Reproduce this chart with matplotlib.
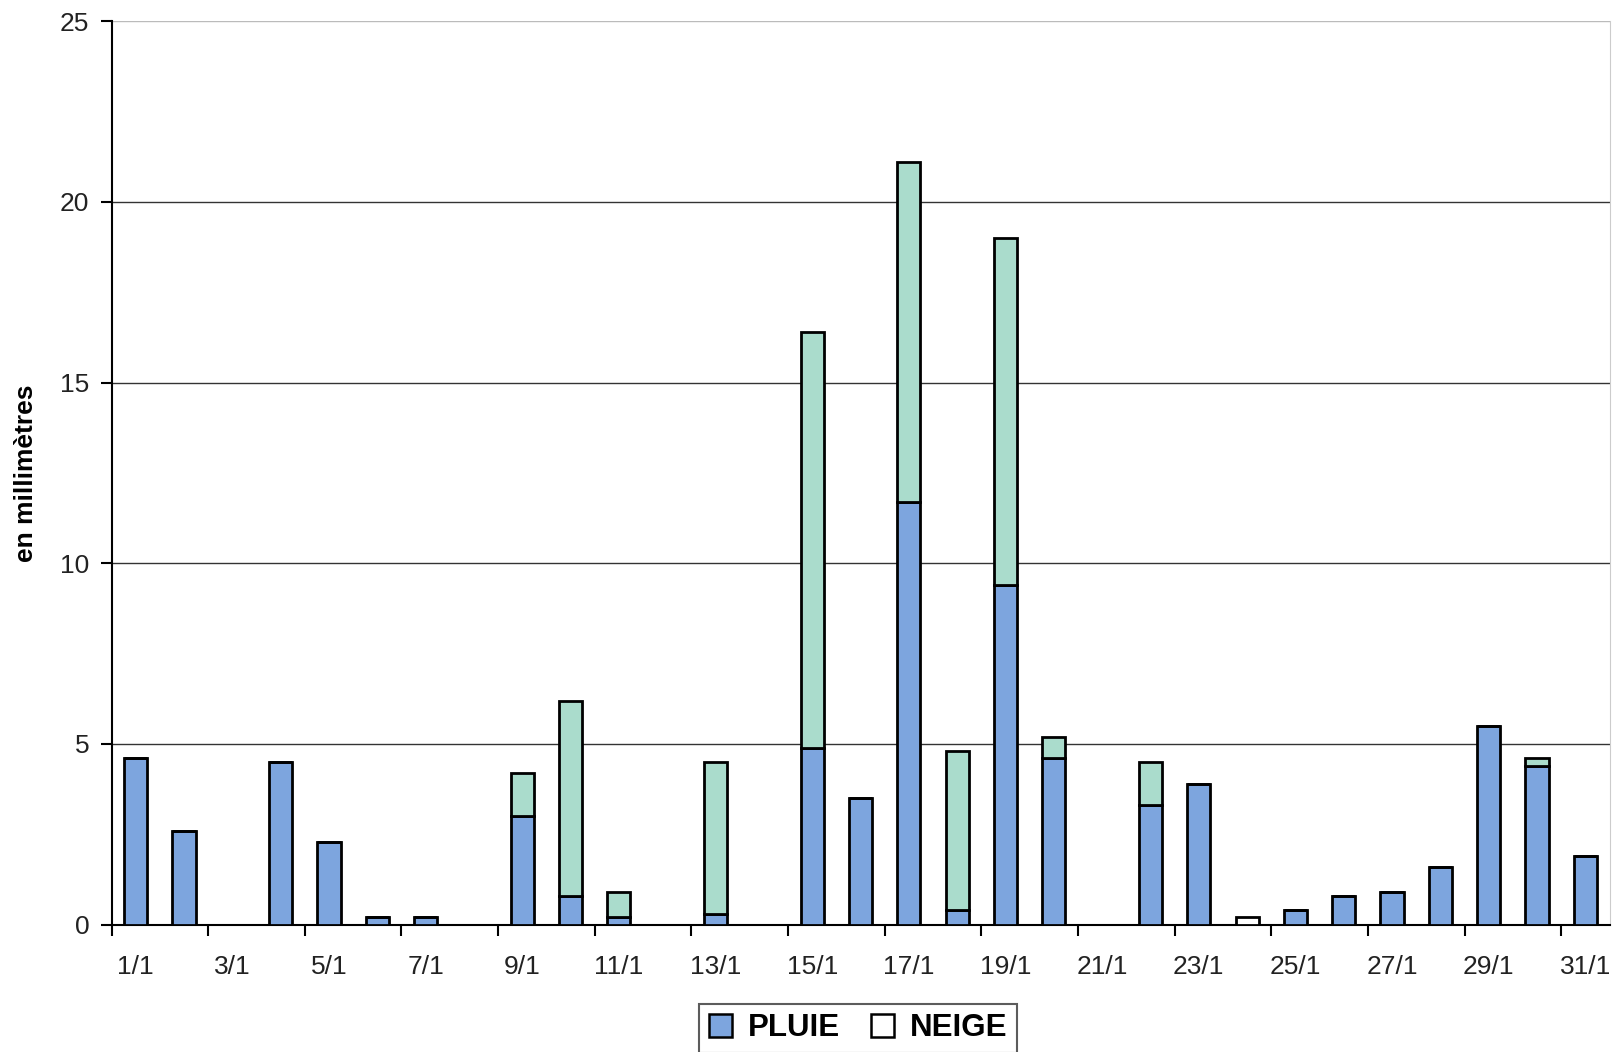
import numpy as np
import matplotlib
matplotlib.use("Agg")
import matplotlib.pyplot as plt
from matplotlib.patches import Patch

plt.rcParams['font.family'] = ['Liberation Sans', 'DejaVu Sans']

# daily precipitation, January (mm)
jours = np.arange(1, 32)
pluie = [4.6, 2.6, 0, 4.5, 2.3, 0.2, 0.2, 0, 3.0, 0.8, 0.2, 0, 0.3, 0, 4.9, 3.5,
         11.7, 0.4, 9.4, 4.6, 0, 3.3, 3.9, 0, 0.4, 0.8, 0.9, 1.6, 5.5, 4.4, 1.9]
neige = [0, 0, 0, 0, 0, 0, 0, 0, 1.2, 5.4, 0.7, 0, 4.2, 0, 11.5, 0,
         9.4, 4.4, 9.6, 0.6, 0, 1.2, 0, 0.2, 0, 0, 0, 0, 0, 0.2, 0]
tick_labels = [f"{d}/1" for d in range(1, 32, 2)]

blue = '#7DA5DE'
green = '#AADCCC'

fig = plt.figure(figsize=(16.16, 10.52), dpi=100)
ax = fig.add_axes([0.069, 0.121, 0.927, 0.859])

ax.bar(jours, pluie, width=0.48, color=blue, edgecolor='black', linewidth=2.0, zorder=3)
snow_bars = ax.bar(jours, neige, bottom=pluie, width=0.48, color=green,
                   edgecolor='black', linewidth=2.0, zorder=3)
# the single snow-only trace on 24/1 is printed white
for b, p in zip(snow_bars, pluie):
    if p == 0:
        b.set_facecolor('white')

ax.set_xlim(0.5, 31.5)
ax.set_ylim(0, 25)
ax.set_yticks([0, 5, 10, 15, 20, 25])
for y in [5, 10, 15, 20]:
    ax.axhline(y, color='#333333', linewidth=1.0, zorder=1)
ax.axhline(25, color='#bbbbbb', linewidth=1.0, zorder=1)

ax.set_xticks(np.arange(0.5, 32, 2))
ax.set_xticklabels([])
ax.set_xticks(np.arange(1, 32, 2), minor=True)
ax.set_xticklabels(tick_labels, minor=True)
ax.tick_params(axis='x', which='major', direction='out', length=8, width=1.5, color='black')
ax.tick_params(axis='x', which='minor', length=0, pad=22, labelsize=19, labelcolor='#222222')
ax.tick_params(axis='y', direction='out', length=8, width=1.5, pad=8, labelsize=19,
               labelcolor='#222222')

ax.spines['top'].set_visible(False)
ax.spines['right'].set_color('#cccccc')
ax.spines['left'].set_linewidth(1.5)
ax.spines['bottom'].set_linewidth(1.5)

fig.text(0.016, 0.55, 'en millimètres', rotation=90, ha='center', va='center',
         fontsize=19, fontweight='bold')

handles = [Patch(facecolor=blue, edgecolor='black', linewidth=1.8, label='PLUIE'),
           Patch(facecolor='white', edgecolor='black', linewidth=1.8, label='NEIGE')]
leg = fig.legend(handles=handles, loc='center', bbox_to_anchor=(0.531, 0.0225), ncol=2,
                 prop={'size': 22.5, 'weight': 'bold'}, frameon=True, fancybox=False,
                 edgecolor='#333333', handlelength=0.75, handleheight=0.75,
                 handletextpad=0.5, columnspacing=1.0, borderpad=0.3)
leg.get_frame().set_linewidth(1.5)

fig.savefig('out.png', dpi=100)
